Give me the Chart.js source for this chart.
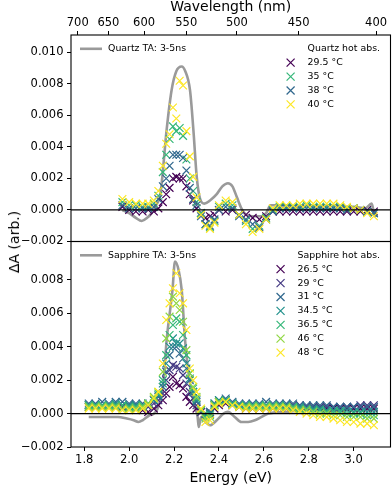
<!DOCTYPE html>
<html>
<head>
<meta charset="utf-8">
<script src="https://cdn.jsdelivr.net/npm/chart.js@4"></script>
<style>
  body { margin: 0; background: #fff; }
  #wrap { position: relative; width: 392px; height: 487px; background: #fff; font-family: "DejaVu Sans", sans-serif; }
  canvas { position: absolute; left: 0; }
  #top { top: 0; }
  #bot { top: 238px; }
  #ylab { position: absolute; left: 14px; top: 242px; transform: translate(-50%, -50%) rotate(-90deg);
          font-size: 14px; white-space: nowrap; color: #000; }
</style>
</head>
<body>
<div id="wrap">
  <canvas id="top" width="392" height="250"></canvas>
  <canvas id="bot" width="392" height="249"></canvas>
  <div id="ylab">ΔA (arb.)</div>
</div>
<script>
const HC = 1239.84;          // eV * nm
const UNIT = 1e-4;           // all ΔA values below are in units of 1e-4

// axis ticks
const wavelengthTicks = [700, 650, 600, 550, 500, 450, 400];
const energyTicks = [1.8, 2.0, 2.2, 2.4, 2.6, 2.8, 3.0];
const yTicksTop = [-0.002, 0, 0.002, 0.004, 0.006, 0.008, 0.010];
const yTicksBottom = [-0.002, 0, 0.002, 0.004, 0.006, 0.008];

// ---- quartz ----
const quartzTaLabel = "Quartz TA: 3-5ns";
const quartzTaE = [1.97, 2.00, 2.03, 2.056, 2.08, 2.10, 2.12, 2.14, 2.167, 2.189, 2.21, 2.234, 2.25, 2.271, 2.286,
  2.301, 2.316, 2.335, 2.36, 2.39, 2.415, 2.44, 2.46, 2.48, 2.50, 2.52, 2.55, 2.59, 2.61, 2.63,
  2.70, 2.75, 2.80, 2.85, 2.90, 2.95, 3.00, 3.05, 3.08, 3.095, 3.10];
const quartzTa = [0, -2, -5, -7, -5, -2, 3, 11, 51, 76, 88, 91, 88, 76, 51,
  21, 7, 4, 6, 10, 15, 17, 15, 8, 1, -3, -4, -4, -2, 3,
  3, 2, 3, 2, 3, 2, 2, 1, 4, -4, 0];

const quartzE = [1.97, 2.00, 2.03, 2.06, 2.085, 2.11, 2.13, 2.15, 2.165, 2.18, 2.195, 2.21, 2.225, 2.24, 2.255,
  2.27, 2.285, 2.30, 2.32, 2.34, 2.36, 2.38, 2.40, 2.43, 2.46, 2.49, 2.52, 2.55, 2.58, 2.61,
  2.64, 2.67, 2.70, 2.73, 2.76, 2.79, 2.82, 2.85, 2.88, 2.91, 2.94, 2.97, 3.00, 3.03, 3.06, 3.09];
const quartzTemps = ["29.5", "35", "38", "40"];
const quartzColors = ["#440154", "#35b779", "#31688e", "#fde725"];
const quartz295 = [2, 0, -1, -1, 0, -1, 1, 5, 10, 14, 20, 21, 20, 20, 15, 10, 6, 1, -2, -5, -4, -3, 0, -1, 0, -3, -3, -5, -6, -4,
  -1, -1, -1, -1, -1, -1, -1, -1, -1, -1, -1, -1, -1, -1, 0, -1];
const quartz35 = [5, 3, 3, 2, 2, 4, 9, 24, 35, 45, 53, 50, 52, 47, 32, 20, 12, 5, -2, -9, -11, -7, 2, 4, 3, -3, -7, -12, -10, -5,
  0, 2, 2, 2, 2, 3, 2, 2, 2, 2, 2, 1, 1, 0, -1, -2];
const quartz38 = [3, 1, 1, 1, 1, 2, 7, 15, 20, 28, 35, 35, 35, 33, 25, 14, 7, 3, -4, -9, -10, -6, 0, 2, 1, -4, -6, -9, -11, -6,
  -1, 1, 1, 1, 1, 1, 1, 1, 1, 1, 1, 0, 1, 0, -1, -2];
const quartz40 = [7, 5, 4, 4, 4, 6, 12, 28, 42, 48, 65, 58, 82, 79, 50, 34, 21, 8, -3, -10, -12, -8, 3, 6, 5, -3, -9, -14, -12, -6,
  1, 3, 3, 3, 4, 4, 4, 4, 4, 4, 3, 2, 1, 0, -2, -4];

// ---- sapphire ----
const sapphireTaLabel = "Sapphire TA: 3-5ns";
const sapphireTaE = [1.82, 1.85, 1.90, 1.95, 1.99, 2.02, 2.041, 2.06, 2.09, 2.11, 2.13, 2.152, 2.167, 2.193, 2.204,
  2.22, 2.234, 2.249, 2.271, 2.293, 2.305, 2.31, 2.32, 2.34, 2.36, 2.39, 2.42, 2.44, 2.47, 2.50,
  2.53, 2.56, 2.59, 2.62, 2.70, 2.80, 2.90, 3.00, 3.10];
const sapphireTa = [-2, -2, -2, -2, -3, -4, -5, -4, -1, 0, 4, 18, 44, 74, 91,
  86, 74, 44, 18, 4, -2, -8, -2, -5, -7, -4, 0, 1, -2, -5,
  -5, -4, -2, 0, 1, 2, 2, 2, 2];

const sapphireE = [1.82, 1.85, 1.88, 1.91, 1.94, 1.97, 2.00, 2.03, 2.06, 2.085, 2.11, 2.13, 2.15, 2.165, 2.18, 2.195, 2.21,
  2.225, 2.24, 2.255, 2.27, 2.285, 2.30, 2.32, 2.34, 2.36, 2.38, 2.40, 2.43, 2.46, 2.49, 2.52, 2.55, 2.58,
  2.61, 2.64, 2.67, 2.70, 2.73, 2.76, 2.79, 2.82, 2.85, 2.88, 2.91, 2.94, 2.97, 3.00, 3.03, 3.06, 3.09];
const sapphireTemps = ["26.5", "29", "31", "34.5", "36.5", "46", "48"];
const sapphireColors = ["#440154", "#443983", "#31688e", "#21918c", "#35b779", "#90d743", "#fde725"];
const sapphire265 = [4, 4, 4, 4, 4, 4, 4, 3, 2, 1, 3, 5, 8, 12, 16, 22, 18, 17, 15, 10, 7, 5, 3, 1, -1, 0, 3, 5, 6, 5, 4,
  3, 3, 3, 3, 3, 3, 3, 3, 3, 3, 3, 3, 3, 3, 3, 3, 3, 3, 3, 3];
const sapphire29 = [5, 5, 5, 5, 5, 5, 5, 5, 4, 4, 6, 8, 12, 20, 26, 29, 28, 27, 23, 18, 13, 9, 5, 1, 0, 1, 5, 7, 8, 6, 5,
  5, 5, 5, 5, 5, 5, 5, 5, 5, 4, 4, 4, 4, 4, 4, 4, 4, 5, 5, 5];
const sapphire31 = [6, 6, 7, 6, 7, 7, 6, 6, 6, 6, 8, 10, 16, 25, 35, 40, 40, 36, 33, 27, 20, 13, 7, 2, 0, 1, 6, 8, 9, 7, 6,
  6, 6, 6, 7, 6, 6, 6, 6, 5, 5, 5, 5, 5, 4, 4, 4, 4, 4, 4, 4];
const sapphire345 = [5, 5, 5, 5, 6, 5, 5, 5, 5, 6, 8, 11, 18, 30, 40, 45, 42, 42, 39, 30, 21, 13, 8, 2, -1, 0, 6, 8, 8, 6, 5,
  5, 5, 5, 5, 5, 5, 5, 4, 4, 3, 3, 3, 2, 2, 2, 2, 1, 1, 1, 1];
const sapphire365 = [5, 5, 5, 5, 5, 5, 4, 4, 5, 6, 9, 12, 20, 35, 47, 53, 57, 55, 47, 35, 24, 15, 9, 2, -2, -1, 5, 7, 8, 6, 5,
  5, 5, 5, 5, 5, 5, 4, 4, 3, 3, 2, 2, 1, 1, 1, 0, 0, 0, -1, -1];
const sapphire46 = [4, 4, 4, 4, 4, 3, 3, 3, 4, 6, 10, 13, 25, 45, 58, 70, 66, 62, 55, 38, 24, 16, 10, 2, -3, -2, 5, 7, 7, 5, 4,
  4, 4, 4, 4, 4, 4, 4, 3, 2, 2, 1, 0, 0, -1, -1, -2, -2, -2, -3, -3];
const sapphire48 = [3, 3, 3, 3, 3, 2, 2, 2, 3, 5, 9, 13, 30, 56, 66, 75, 84, 72, 66, 50, 27, 20, 13, 3, -5, -4, 4, 6, 7, 5, 4,
  3, 3, 3, 3, 3, 3, 3, 2, 1, 0, -1, -2, -2, -3, -4, -5, -5, -6, -6, -7];

const xMin = 1.741, xMax = 3.164;

Chart.defaults.font.family = "'DejaVu Sans', sans-serif";
Chart.defaults.color = "#000";

const tickFont = { size: 11.5 };
const titleFont = { size: 14, lineHeight: 1 };

function points(e, vals) {
  return e.map((x, i) => ({ x, y: vals[i] * UNIT }));
}

function fmtY(v) {
  return (v < 0 ? "\u2212" : "") + Math.abs(v).toFixed(3);
}

function noPad(s) {
  s.paddingLeft = 0; s.paddingRight = 0; s.paddingTop = 0; s.paddingBottom = 0;
}

function drawCross(ctx, x, y, h, color) {
  ctx.strokeStyle = color;
  ctx.lineWidth = 1.2;
  ctx.beginPath();
  ctx.moveTo(x - h, y - h); ctx.lineTo(x + h, y + h);
  ctx.moveTo(x + h, y - h); ctx.lineTo(x - h, y + h);
  ctx.stroke();
}

// frame, zero line and the two legends of each panel
const panelDecor = {
  id: "panelDecor",
  afterDatasetsDraw(chart, args, opts) {
    const { ctx, chartArea: a } = chart;
    const ds = chart.data.datasets;
    ctx.save();
    const y0 = chart.scales.y.getPixelForValue(0);
    ctx.strokeStyle = "#000";
    ctx.lineWidth = 1.2;
    ctx.beginPath(); ctx.moveTo(a.left, y0); ctx.lineTo(a.right, y0); ctx.stroke();
    ctx.lineWidth = 1.1;
    ctx.strokeRect(a.left, a.top, a.right - a.left, a.bottom - a.top);

    ctx.font = "9.4px 'DejaVu Sans'";
    ctx.textBaseline = "middle";
    ctx.textAlign = "left";
    const ly = a.top + 13.8;
    const ta = ds[0];
    ctx.strokeStyle = ta.borderColor;
    ctx.lineWidth = ta.borderWidth;
    ctx.beginPath(); ctx.moveTo(a.left + 9, ly); ctx.lineTo(a.left + 31, ly); ctx.stroke();
    ctx.fillStyle = "#000";
    ctx.fillText(ta.label, a.left + 37, ly);

    const tw = ctx.measureText(opts.title).width;
    const tx = a.right - 10.5 - tw;
    ctx.fillText(opts.title, tx, ly);
    ds.slice(1).forEach((d, i) => {
      const y = ly + (i + 1) * 13.9;
      drawCross(ctx, tx - 17, y, 4, d.borderColor);
      ctx.fillStyle = "#000";
      ctx.fillText(d.label, tx, y);
    });
    ctx.restore();
  }
};

function buildDatasets(taLabel, taE, ta, e, temps, colors, series) {
  const sets = [{
    label: taLabel,
    data: points(taE, ta),
    showLine: true,
    borderColor: "#9a9a9a",
    borderWidth: 2.6,
    pointRadius: 0,
    cubicInterpolationMode: "monotone",
    order: 100
  }];
  series.forEach((vals, i) => {
    sets.push({
      label: temps[i] + " \u00b0C",
      data: points(e, vals),
      showLine: false,
      pointStyle: "crossRot",
      pointRadius: 5.5,
      borderWidth: 1.2,
      borderColor: colors[i],
      backgroundColor: colors[i],
      order: 50 - i
    });
  });
  return sets;
}

function yScale(max, tickList) {
  return {
    type: "linear",
    min: -0.002,
    max: max,
    afterFit: s => { s.width = 71; noPad(s); },
    afterBuildTicks: s => { s.ticks = tickList.map(v => ({ value: v })); },
    ticks: { font: tickFont, color: "#000", padding: 3.5, callback: v => fmtY(v) },
    grid: { drawOnChartArea: false, tickLength: 4, tickColor: "#000", tickWidth: 1 },
    border: { display: false }
  };
}

new Chart(document.getElementById("top"), {
  type: "scatter",
  data: {
    datasets: buildDatasets(quartzTaLabel, quartzTaE, quartzTa, quartzE, quartzTemps, quartzColors,
      [quartz295, quartz35, quartz38, quartz40])
  },
  options: {
    responsive: false,
    animation: false,
    events: [],
    layout: { autoPadding: false, padding: { top: 0, left: 0, right: 1.5, bottom: 8.5 } },
    scales: {
      x: { type: "linear", min: xMin, max: xMax, display: false },
      xTop: {
        type: "linear",
        position: "top",
        min: xMin,
        max: xMax,
        afterFit: s => { s.height = 35; noPad(s); },
        afterBuildTicks: s => { s.ticks = wavelengthTicks.map(w => ({ value: HC / w })); },
        ticks: { font: tickFont, color: "#000", padding: 1.5, maxRotation: 0, autoSkip: false,
                 callback: v => String(Math.round(HC / v)) },
        grid: { drawOnChartArea: false, tickLength: 4, tickColor: "#000" },
        border: { display: false },
        title: { display: true, text: "Wavelength (nm)", font: titleFont, color: "#000", padding: 0 }
      },
      y: yScale(0.0111, yTicksTop)
    },
    plugins: {
      legend: { display: false },
      tooltip: { enabled: false },
      panelDecor: { title: "Quartz hot abs." }
    }
  },
  plugins: [panelDecor]
});

new Chart(document.getElementById("bot"), {
  type: "scatter",
  data: {
    datasets: buildDatasets(sapphireTaLabel, sapphireTaE, sapphireTa, sapphireE, sapphireTemps, sapphireColors,
      [sapphire265, sapphire29, sapphire31, sapphire345, sapphire365, sapphire46, sapphire48])
  },
  options: {
    responsive: false,
    animation: false,
    events: [],
    layout: { autoPadding: false, padding: { top: 3.5, left: 0, right: 1.5, bottom: 2 } },
    scales: {
      x: {
        type: "linear",
        position: "bottom",
        min: xMin,
        max: xMax,
        afterFit: s => { s.height = 38; noPad(s); },
        afterBuildTicks: s => { s.ticks = energyTicks.map(v => ({ value: v })); },
        ticks: { font: tickFont, color: "#000", padding: 2, maxRotation: 0, autoSkip: false,
                 callback: v => v.toFixed(1) },
        grid: { drawOnChartArea: false, tickLength: 4, tickColor: "#000" },
        border: { display: false },
        title: { display: true, text: "Energy (eV)", font: titleFont, color: "#000", padding: 0 }
      },
      y: yScale(0.0103, yTicksBottom)
    },
    plugins: {
      legend: { display: false },
      tooltip: { enabled: false },
      panelDecor: { title: "Sapphire hot abs." }
    }
  },
  plugins: [panelDecor]
});
</script>
</body>
</html>
